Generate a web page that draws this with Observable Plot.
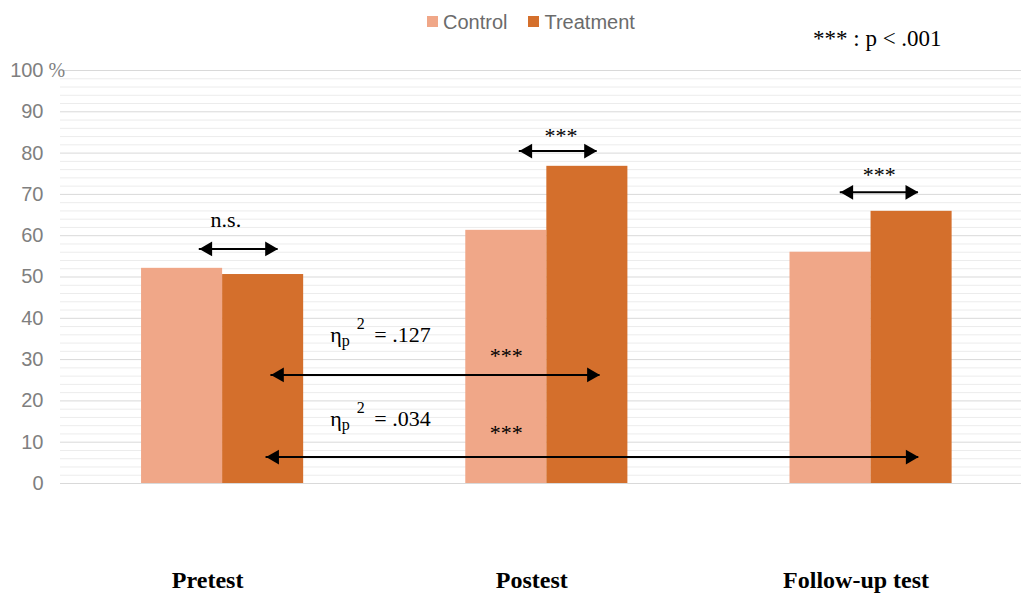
<!DOCTYPE html>
<html><head><meta charset="utf-8">
<script src="https://cdn.jsdelivr.net/npm/d3@7"></script>
<script src="https://cdn.jsdelivr.net/npm/@observablehq/plot@0.6"></script>
<style>
body{margin:0;background:#fff;}
#wrap{position:relative;width:1021px;height:597px;overflow:hidden;}
#chart{position:absolute;left:0;top:0;}
.legend{position:absolute;left:427px;top:12px;display:flex;align-items:center;font:20px "Liberation Sans",Arial,sans-serif;color:#6b6b6b;line-height:20px;}
.legend .sw{width:11px;height:11px;margin-right:5px;display:inline-block;margin-top:-1px}
.legend .item{display:flex;align-items:center;margin-right:21px}
.note{position:absolute;left:813px;top:28px;font:23px "Liberation Serif","Times New Roman",serif;line-height:22px;color:#000;white-space:pre}
</style></head><body>
<div id="wrap"><div id="chart"></div><div class="legend" id="legend"></div><div class="note" id="note"></div></div>
<script>
const groups = ["Pretest", "Postest", "Follow-up test"];
const seriesNames = ["Control", "Treatment"];
const control = [52.1, 61.3, 56.0];
const treatment = [50.6, 76.8, 65.9];
const colors = ["#F0A788", "#D46F2C"];
const yTicks = [0, 10, 20, 30, 40, 50, 60, 70, 80, 90, 100];
const noteText = "*** : p < .001";

// pairwise comparison arrows (group-index units, percent)
const pairX1 = [-0.072, 0.915, 1.905];
const pairX2 = [0.171, 1.155, 2.146];
const pairY = [56.8, 80.5, 70.5];
const pairLabels = ["n.s.", "***", "***"];
const pairLabelX = [0.010, 1.044, 2.025];
const pairLabelY = [63.9, 84.1, 74.8];

// long comparison arrows
const longX1 = [0.149, 0.134];
const longX2 = [1.164, 2.147];
const longY = [26.3, 6.4];
const longLabels = ["***", "***"];
const longLabelX = [0.875, 0.875];
const longLabelY = [31.0, 12.2];
const etaLabels = ["η_p^2 = .127", "η_p^2 = .034"];
const etaX = [0.332, 0.332];
const etaY = [35.9, 15.7];

// tables
const bars = [];
groups.forEach((g, i) => {
  bars.push({i, s: seriesNames[0], x1: i - 0.25, x2: i, v: control[i]});
  bars.push({i, s: seriesNames[1], x1: i, x2: i + 0.25, v: treatment[i]});
});
const arrows = [
  ...pairX1.map((x1, k) => ({x1, x2: pairX2[k], y: pairY[k]})),
  ...longX1.map((x1, k) => ({x1, x2: longX2[k], y: longY[k]}))
];
const stars = [
  ...pairLabels.map((t, k) => ({t, x: pairLabelX[k], y: pairLabelY[k]})),
  ...longLabels.map((t, k) => ({t, x: longLabelX[k], y: longLabelY[k]}))
];
const etas = etaLabels.map((t, k) => ({t, x: etaX[k], y: etaY[k]}));
const minor = d3.range(0, 101, 2).filter(d => d % 10 !== 0);

const serif = '"Liberation Serif","Times New Roman",serif';

const plot = Plot.plot({
  width: 1021,
  height: 597,
  marginLeft: 60,
  marginRight: 0,
  marginTop: 70,
  marginBottom: 114,
  style: {fontFamily: '"Liberation Sans",Arial,sans-serif', background: "#fff"},
  x: {type: "linear", domain: [-0.5, 2.464]},
  y: {domain: [0, 100]},
  color: {domain: seriesNames, range: colors},
  marks: [
    Plot.ruleY(minor, {stroke: "#ececec", strokeWidth: 1}),
    Plot.ruleY(yTicks, {stroke: "#d9d9d9", strokeWidth: 1}),
    Plot.rectY(bars, {x1: "x1", x2: "x2", y: "v", fill: "s"}),
    Plot.axisY({ticks: yTicks, tickSize: 0, tickPadding: 17, fontSize: 20, color: "#7f7f7f", label: null}),
    Plot.text([100], {y: d => d, frameAnchor: "left", text: () => "%", dx: -12, textAnchor: "start", fontFamily: serif, fontSize: 20, fill: "#7f7f7f"}),
    Plot.axisX({ticks: [0, 1, 2], tickFormat: i => groups[i], tickSize: 0, tickPadding: 87, dx: -15, fontSize: 24, fontWeight: "bold", fontFamily: serif, fill: "#000", label: null}),
    Plot.ruleY(arrows, {x1: "x1", x2: "x2", y: "y", stroke: "#000", strokeWidth: 2}),
    Plot.dot(arrows, {x: "x2", y: "y", symbol: "triangle", r: 5.5, fill: "#000", rotate: 90, dx: -8.6}),
    Plot.dot(arrows, {x: "x1", y: "y", symbol: "triangle", r: 5.5, fill: "#000", rotate: -90, dx: 8.6}),
    Plot.text(stars, {x: "x", y: "y", text: "t", fontFamily: serif, fontSize: 22, fill: "#000"}),
    Plot.text(etas, {x: "x", y: "y", text: "t", textAnchor: "start", fontFamily: serif, fontSize: 22, fill: "#000"})
  ]
});

d3.select(plot).selectAll("text").filter(function() {
  return this.textContent.startsWith("η_p^2");
}).each(function() {
  const rest = this.textContent.replace("η_p^2", "");
  const t = d3.select(this);
  t.text(null);
  t.append("tspan").text("η");
  t.append("tspan").attr("font-size", 16).attr("dy", 4).text("p");
  t.append("tspan").attr("font-size", 16).attr("dy", -17).attr("dx", 7).text("2");
  t.append("tspan").attr("dy", 13).attr("dx", 4).text(rest);
});

document.getElementById("chart").appendChild(plot);

const lg = d3.select("#legend");
seriesNames.forEach((s, k) => {
  const it = lg.append("div").attr("class", "item");
  it.append("span").attr("class", "sw").style("background", colors[k]);
  it.append("span").text(s);
});
document.getElementById("note").textContent = noteText;
</script>
</body></html>
